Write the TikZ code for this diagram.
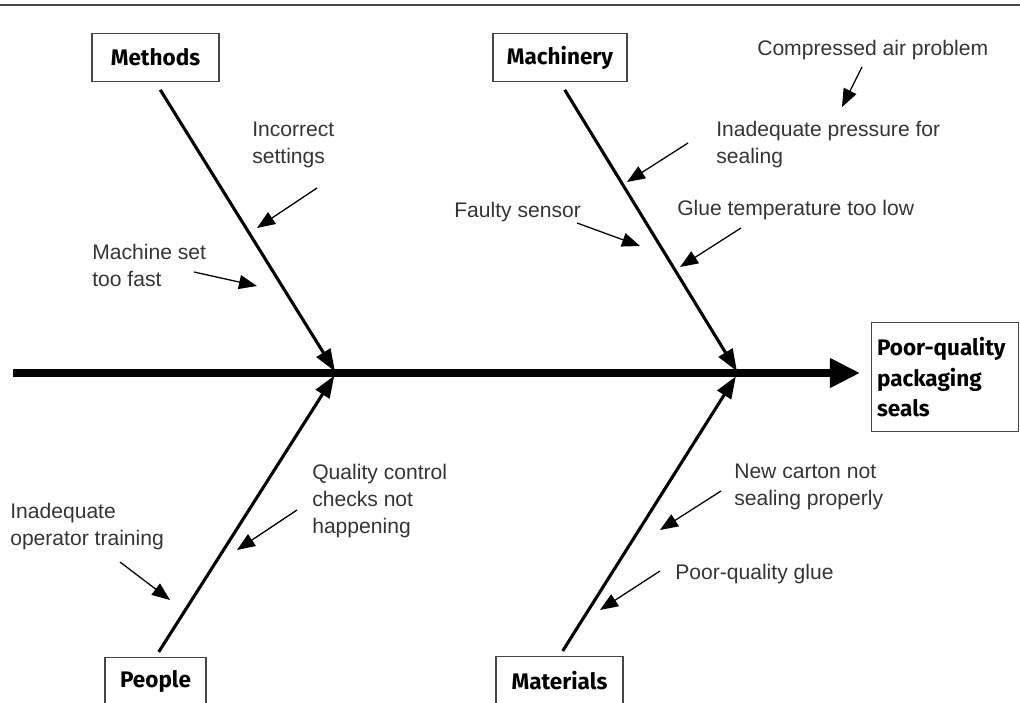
\documentclass[tikz,border=0pt]{standalone}
\usepackage{fontspec}
\setmainfont{Liberation Sans}
\newfontfamily\boxfont{Fira Sans}
\usetikzlibrary{arrows.meta}
\definecolor{labelgray}{HTML}{353535}
\definecolor{framegray}{HTML}{474747}
\tikzset{
  causebox/.style={draw=framegray, line width=0.8pt, inner sep=0pt,
    font=\boxfont\bfseries\fontsize{16}{22}\selectfont,
    minimum height=1.2cm, anchor=north},
  bone/.style={line width=2.2pt, -{Triangle[length=5.5mm,width=4mm]}},
  spine/.style={line width=5pt, -{Triangle[length=7.5mm,width=7mm]}},
  cause/.style={font=\fontsize{15}{19.2}\selectfont, text=labelgray,
    align=left, anchor=west, inner sep=0pt},
  tick/.style={line width=0.9pt, -{Triangle[length=4.5mm,width=3.5mm]}},
}
\begin{document}
\begin{tikzpicture}[x=0.025cm, y=-0.025cm]
  \useasboundingbox (0,0) rectangle (1020,703);
  \draw[draw=framegray, line width=1.5pt] (0,5) -- (1020,5);

  % category boxes and effect
  \node[causebox, minimum width=3.175cm] (methods) at (155.5,33) {Methods};
  \node[causebox, minimum width=3.35cm] (machinery) at (560,33) {Machinery};
  \node[causebox, minimum width=2.525cm] (people) at (155.5,657) {People};
  \node[causebox, minimum width=3.175cm] (materials) at (559.5,656) {Materials};
  \node[causebox, anchor=north west, minimum width=3.675cm,
    minimum height=2.725cm, text width=3.4cm, inner xsep=0.135cm,
    align=left] (effect) at (871,322)
    {\mbox{Poor-quality}\\packaging\\seals};

  % spine and bones
  \coordinate (tail) at (13,373);
  \coordinate (jl) at (336,373);
  \coordinate (jr) at (738,373);
  \draw[spine, shorten >=2.75mm] (tail) -- (tail -| effect.west);
  \draw[bone, shorten <=2.25mm, shorten >=0.5mm] (methods.south) -- (jl);
  \draw[bone, shorten <=2.25mm, shorten >=0.5mm] (machinery.south) -- (jr);
  \draw[bone, shorten <=1.5mm, shorten >=0.8mm] (people.north) -- (jl);
  \draw[bone, shorten <=1.5mm, shorten >=1mm] (materials.north) -- (jr);

  % causes
  \node[cause] (incorrect) at (252,145) {Incorrect\\settings};
  \node[cause] (toofast) at (92,265) {Machine set\\too fast};
  \node[cause] (airproblem) at (757,50) {Compressed air problem};
  \node[cause] (pressure) at (716,145) {Inadequate pressure for\\sealing};
  \node[cause] (sensor) at (454,212) {Faulty sensor};
  \node[cause] (gluetemp) at (677,210) {Glue temperature too low};
  \node[cause] (training) at (10,527) {Inadequate\\operator training};
  \node[cause] (qcheck) at (312,501) {Quality control\\checks not\\happening};
  \node[cause] (carton) at (734,487) {New carton not\\sealing properly};
  \node[cause] (glue) at (675,574) {Poor-quality glue};

  % cause arrows
  \coordinate (a1) at (317,188); \coordinate (b1) at (257,228);
  \coordinate (a2) at (194,272); \coordinate (b2) at (257,286);
  \coordinate (a3) at (862,67);  \coordinate (b3) at (842,107);
  \coordinate (a4) at (688,143); \coordinate (b4) at (627,182);
  \coordinate (a5) at (577,223); \coordinate (b5) at (640,246);
  \coordinate (a6) at (741,228); \coordinate (b6) at (680,267);
  \coordinate (a7) at (120,562); \coordinate (b7) at (170,600);
  \coordinate (a8) at (297,510); \coordinate (b8) at (237,550);
  \coordinate (a9) at (721,491); \coordinate (b9) at (660,530);
  \coordinate (a10) at (660,571); \coordinate (b10) at (600,610);
  \foreach \i in {1,...,10}
    \draw[tick] (a\i) -- (b\i);
\end{tikzpicture}
\end{document}
